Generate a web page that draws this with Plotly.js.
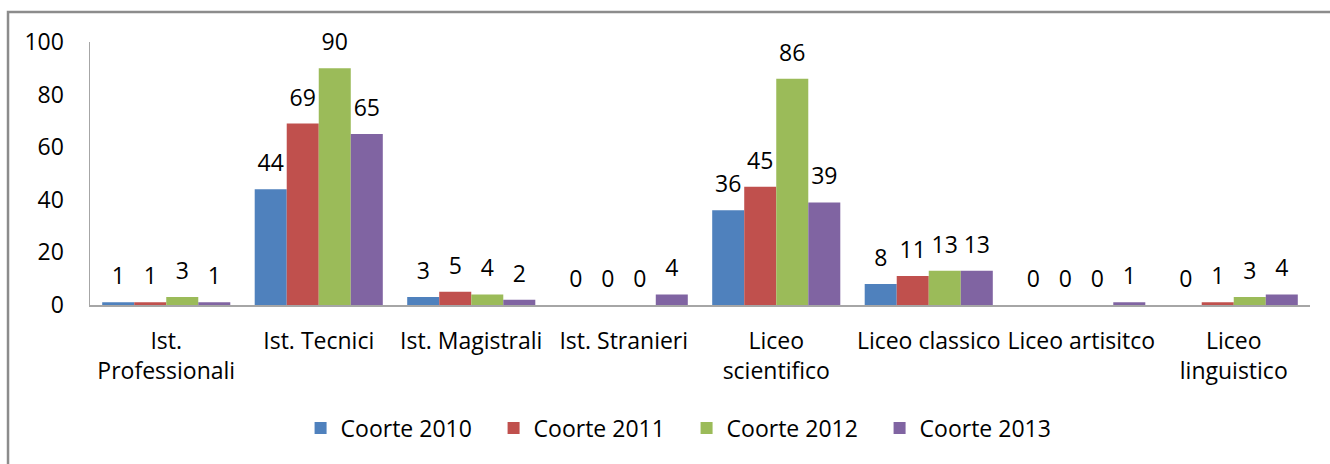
<!DOCTYPE html>
<html>
<head>
<meta charset="utf-8">
<script src="https://cdn.plot.ly/plotly-3.0.1.min.js"></script>
<style>
html,body{margin:0;padding:0;background:#fff;}
#chart{width:1330px;height:464px;}
</style>
</head>
<body>
<div id="chart"></div>
<script>
const categories = ["Ist.<br>Professionali", "Ist. Tecnici", "Ist. Magistrali", "Ist. Stranieri",
  "Liceo<br>scientifico", "Liceo classico", "Liceo artisitco", "Liceo<br>linguistico"];
const seriesNames = ["Coorte 2010", "Coorte 2011", "Coorte 2012", "Coorte 2013"];
const coorte2010 = [1, 44, 3, 0, 36, 8, 0, 0];
const coorte2011 = [1, 69, 5, 0, 45, 11, 0, 1];
const coorte2012 = [3, 90, 4, 0, 86, 13, 0, 3];
const coorte2013 = [1, 65, 2, 4, 39, 13, 1, 4];
const seriesValues = [coorte2010, coorte2011, coorte2012, coorte2013];
const colors = ["#4F81BD", "#C0504D", "#9BBB59", "#8064A2"];

const FONT = "Open Sans, Liberation Sans, sans-serif";
const FS = 23;
const traces = [];
seriesValues.forEach((vals, i) => {
  traces.push({
    type: "bar", name: seriesNames[i], x: categories, y: vals,
    marker: {color: colors[i]}, offsetgroup: "g" + i, hoverinfo: "none"
  });
});
seriesValues.forEach((vals, i) => {
  traces.push({
    type: "scatter", mode: "markers+text", x: categories, y: vals,
    text: vals.map(String), textposition: "top center",
    textfont: {family: FONT, size: FS, color: "#000"},
    marker: {size: 18, opacity: 0, color: colors[i]}, showlegend: false,
    offsetgroup: "g" + i, cliponaxis: false, hoverinfo: "none"
  });
});

const layout = {
  width: 1330, height: 464,
  margin: {l: 90, r: 20, t: 42, b: 159},
  paper_bgcolor: "#fff", plot_bgcolor: "#fff",
  font: {family: FONT, size: FS, color: "#000"},
  barmode: "group", bargap: 0.16, bargroupgap: 0,
  scattermode: "group", scattergap: 0.16,
  showlegend: true,
  legend: {orientation: "h", x: 0.489, xanchor: "center", y: -0.468, yanchor: "middle",
    font: {family: FONT, size: 23, color: "#000"}, entrywidth: 148, traceorder: "normal"},
  xaxis: {showline: true, linecolor: "#a6a6a6", linewidth: 1.5, ticks: "", showgrid: false,
    zeroline: false, tickangle: 0, tickfont: {family: FONT, size: FS, color: "#000"}, ticklabelstandoff: 15},
  yaxis: {range: [0, 100], dtick: 20, showline: true, linecolor: "#a6a6a6", linewidth: 1.5,
    ticks: "", showgrid: false, zeroline: false, ticklabelstandoff: 20,
    tickfont: {family: FONT, size: FS, color: "#000"}},
  shapes: [{type: "rect", xref: "paper", yref: "paper", x0: -0.0672, x1: 1.03, y0: -0.65, y1: 1.114,
    line: {color: "#8c8c8c", width: 2.5}, fillcolor: "rgba(0,0,0,0)", layer: "below"}]
};
Plotly.newPlot("chart", traces, layout, {displayModeBar: false, staticPlot: true});
</script>
</body>
</html>
